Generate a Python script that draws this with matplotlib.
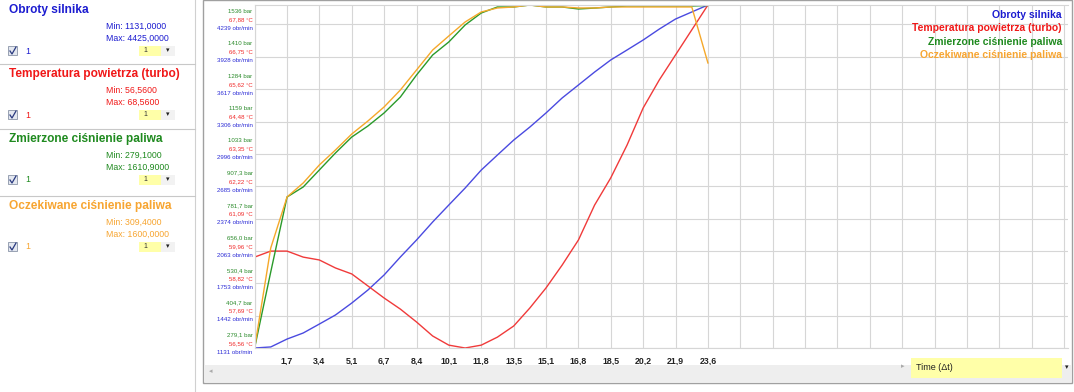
import matplotlib
matplotlib.use("Agg")
import matplotlib.pyplot as plt
from matplotlib.patches import Rectangle
from matplotlib.lines import Line2D
import numpy as np

plt.rcParams["font.family"] = ["Liberation Sans", "DejaVu Sans"]

W, H = 1074, 392

# ---- data ----
TIME_S = [0.00, 0.84, 1.69, 2.53, 3.37, 4.21, 5.06, 5.90, 6.74, 7.59,
          8.43, 9.27, 10.11, 10.96, 11.80, 12.64, 13.49, 14.33, 15.17, 16.01,
          16.86, 17.70, 18.54, 19.39, 20.23, 21.07, 21.91, 22.76, 23.60]

RPM = [1131, 1141, 1217, 1275, 1361, 1448, 1563, 1688, 1832, 2005,
       2168, 2341, 2504, 2667, 2840, 2984, 3128, 3253, 3388, 3532,
       3657, 3781, 3897, 3993, 4089, 4194, 4290, 4358, 4425]

TEMP_C = [59.74, 59.95, 59.95, 59.74, 59.64, 59.36, 59.15, 58.73, 58.31, 57.92,
          57.47, 56.98, 56.66, 56.56, 56.66, 56.94, 57.33, 57.96, 58.66, 59.46,
          60.34, 61.56, 62.51, 63.66, 64.96, 65.94, 66.81, 67.69, 68.56]

FUEL_MEASURED = [279.1, 574.2, 865.4, 904.3, 970.3, 1036.3, 1098.4, 1141.1, 1191.6, 1253.7,
                 1339.1, 1416.8, 1467.3, 1533.3, 1579.9, 1603.2, 1603.2, 1610.9, 1603.2, 1603.2,
                 1595.4, 1599.0, 1603.2, 1607.0, 1607.0, 1607.0, 1607.0, 1607.0, 1609.0]

FUEL_EXPECTED = [309.4, 685.7, 877.6, 930.3, 998.0, 1054.5, 1114.7, 1163.6, 1216.3, 1280.3,
                 1355.5, 1430.7, 1483.4, 1536.1, 1573.8, 1588.8, 1592.6, 1600.0, 1592.6, 1592.6,
                 1588.8, 1588.8, 1592.6, 1592.6, 1592.6, 1592.6, 1592.6, 1592.6, 1381.9]

SERIES_NAMES = ["Obroty silnika", "Temperatura powietrza (turbo)",
                "Zmierzone ciśnienie paliwa", "Oczekiwane ciśnienie paliwa"]
SERIES_MINMAX = ["Min: 1131,0000|Max: 4425,0000", "Min: 56,5600|Max: 68,5600",
                 "Min: 279,1000|Max: 1610,9000", "Min: 309,4000|Max: 1600,0000"]
TEXT_COLORS = ["#1c1cd0", "#f01818", "#1f8a1f", "#f7a531"]
LINE_COLORS = ["#4a4ae0", "#f03a3a", "#2a9a2a", "#f5a82a"]

X_TICK_LABELS = ["1,7", "3,4", "5,1", "6,7", "8,4", "10,1", "11,8",
                 "13,5", "15,1", "16,8", "18,5", "20,2", "21,9", "23,6"]
RPM_TICKS = [1131, 1442, 1753, 2063, 2374, 2685, 2996, 3306, 3617, 3928, 4239]
TEMP_TICK_LABELS = ["56,56", "57,69", "58,82", "59,96", "61,09", "62,22",
                    "63,35", "64,48", "65,62", "66,75", "67,88"]
BAR_TICK_LABELS = ["279,1", "404,7", "530,4", "656,0", "781,7", "907,3",
                   "1033", "1159", "1284", "1410", "1536"]


def fx(x):
    return x / W


def fy(y):
    return 1 - y / H


def norm(vals):
    a = np.asarray(vals, dtype=float)
    return (a - a.min()) / (a.max() - a.min())


fig = plt.figure(figsize=(W / 100, H / 100), dpi=100)
fig.patch.set_facecolor("white")

# ---- left panel: one box per series ----
fig.add_artist(Line2D([fx(195), fx(195)], [0, 1], color="#d0d0d0", lw=0.8))
box_tops = [0, 64, 129, 196]
for top, name, mm, tc in zip(box_tops, SERIES_NAMES, SERIES_MINMAX, TEXT_COLORS):
    if top > 0:
        fig.add_artist(Line2D([0, fx(195)], [fy(top), fy(top)], color="#c8c8c8", lw=0.8))
    fig.text(fx(9), fy(top + 10), name, color=tc, fontsize=8.6, fontweight="bold", va="center")
    mn, mx = mm.split("|")
    fig.text(fx(106), fy(top + 26), mn, color=tc, fontsize=6.3, va="center")
    fig.text(fx(106), fy(top + 38), mx, color=tc, fontsize=6.3, va="center")
    row = top + 51
    fig.add_artist(Rectangle((fx(8), fy(row + 4)), 9 / W, 9 / H, facecolor="#e4e8f0",
                             edgecolor="#8a94a8", lw=0.6))
    fig.add_artist(Line2D([fx(10), fx(12), fx(16)], [fy(row), fy(row + 3), fy(row - 4)],
                          color="#2a3a80", lw=0.9))
    fig.text(fx(25), fy(row), "1", color=tc, fontsize=6.3, va="center")
    fig.add_artist(Rectangle((fx(139), fy(row + 5)), 22 / W, 10 / H, facecolor="#ffffa8",
                             edgecolor="none"))
    fig.add_artist(Rectangle((fx(161), fy(row + 5)), 14 / W, 10 / H, facecolor="#f2f2f2",
                             edgecolor="none"))
    fig.text(fx(143), fy(row), "1", color="#333333", fontsize=5, va="center")
    fig.text(fx(168), fy(row), "▾", color="#222222", fontsize=5, va="center", ha="center")

# ---- chart container ----
fig.add_artist(Rectangle((fx(203), fy(383)), (1072 - 203) / W, 383 / H, facecolor="none",
                         edgecolor="#a0a0a0", lw=1.0))
fig.add_artist(Rectangle((fx(204), fy(382)), (1071 - 204) / W, 17 / H, facecolor="#eeeeee",
                         edgecolor="none"))
fig.text(fx(211), fy(372), "◂", color="#aaaaaa", fontsize=5, va="center", ha="center")
fig.add_artist(Rectangle((fx(911), fy(378)), (1062 - 911) / W, 20 / H, facecolor="#ffffa8",
                         edgecolor="none"))
fig.text(fx(903), fy(367), "▸", color="#aaaaaa", fontsize=5, va="center", ha="center")
fig.text(fx(916), fy(368), "Time (Δt)", color="#222222", fontsize=6.5, va="center")
fig.text(fx(1067), fy(368), "▾", color="#222222", fontsize=5, va="center", ha="center")

# ---- plot area ----
left, right, top, bottom = 254.6, 1068, 5, 348
ax = fig.add_axes([fx(left), fy(bottom), (right - left) / W, (bottom - top) / H])

x_step = TIME_S[-1] / len(X_TICK_LABELS)
n_grid = int((right - left) / 32.38)
ax.set_xlim(0, (right - left) / 32.38 * x_step)
ax.set_ylim(0, 1)

for vals, lc in zip([RPM, TEMP_C, FUEL_MEASURED, FUEL_EXPECTED], LINE_COLORS):
    ax.plot(TIME_S, norm(vals), color=lc, lw=1.0, solid_joinstyle="miter")

rpm_min, rpm_max = min(RPM), max(RPM)
ytick_pos = [(v - rpm_min) / (rpm_max - rpm_min) for v in RPM_TICKS]
ax.set_yticks(ytick_pos)
ax.set_yticklabels([])
ax.set_xticks([k * x_step for k in range(n_grid + 1)])
ax.set_xticklabels([""] + X_TICK_LABELS + [""] * (n_grid - len(X_TICK_LABELS)),
                   fontsize=6.3, fontweight="bold", color="#222222")
ax.tick_params(length=0, pad=6)
ax.grid(True, color="#d6d6d6", lw=0.8)
ax.set_axisbelow(True)
for s in ["top", "right", "bottom", "left"]:
    ax.spines[s].set_color("#d6d6d6")
    ax.spines[s].set_linewidth(0.8)
ax.spines["right"].set_visible(False)

for pos, rpm, temp, bar in zip(ytick_pos, RPM_TICKS, TEMP_TICK_LABELS, BAR_TICK_LABELS):
    for txt, col, dy in [(f"{rpm} obr/min", "#2b2bd6", -3.0),
                         (f"{temp} °C", "#f02828", 3.3),
                         (f"{bar} bar", "#2a8a2a", 9.3)]:
        ax.annotate(txt, xy=(0, pos), xycoords=("axes fraction", "data"),
                    xytext=(-1.5, dy), textcoords="offset points",
                    ha="right", va="center", fontsize=4.4, color=col,
                    annotation_clip=False)

# ---- legend, top right ----
for i, (name, tc) in enumerate(zip(SERIES_NAMES, TEXT_COLORS)):
    fig.text(fx(1062), fy(15 + 13.4 * i), name, color=tc, fontsize=7.5,
             fontweight="bold", ha="right", va="center")

fig.savefig("out.png", dpi=100)
